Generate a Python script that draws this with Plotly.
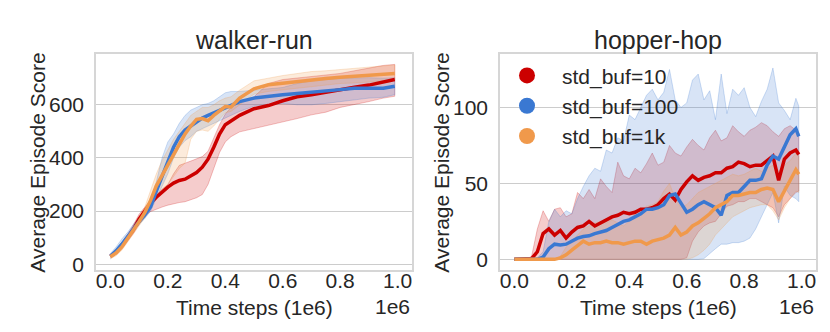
import numpy as np
import plotly.graph_objects as go

FONT = "Liberation Sans, Arial, Helvetica, sans-serif"
INK = "#262626"

SERIES = ["std_buf=10", "std_buf=100", "std_buf=1k"]
COLORS = ["#cc0000", "#3a78d2", "#f0994b"]
FILLS = ["rgba(204,0,0,0.2)", "rgba(58,120,210,0.2)", "rgba(240,153,75,0.2)"]
EDGES = ["rgba(204,0,0,0.3)", "rgba(58,120,210,0.3)", "rgba(240,153,75,0.3)"]

PANEL_TITLES = ["walker-run", "hopper-hop"]
X_TITLE = "Time steps (1e6)"
Y_TITLE = "Average Episode Score"
X_TICKS = [0.0, 0.2, 0.4, 0.6, 0.8, 1.0]
X_TICKTEXT = ["0.0", "0.2", "0.4", "0.6", "0.8", "1.0"]
WALKER_YTICKS = [0, 200, 400, 600]
HOPPER_YTICKS = [0, 50, 100]

# ---- walker-run (x in millions of time steps) ----
WALKER_X = [0, .02, .04, .06, .08, .10, .12, .14, .16, .18, .20, .22, .24, .26, .28, .30, .32,
            .34, .36, .38, .40, .42, .45, .50, .55, .60, .65, .70, .75, .80, .85, .90, .95, .99]
W_MEAN_10 = [30, 45, 70, 100, 130, 170, 200, 230, 252, 272, 290, 305, 315, 320, 332, 345, 365,
             395, 440, 490, 525, 540, 560, 585, 597, 615, 630, 638, 648, 658, 666, 674, 686, 695]
W_LO_10 = [25, 38, 58, 85, 115, 150, 180, 198, 208, 215, 222, 228, 232, 235, 242, 250, 262,
           300, 360, 420, 460, 480, 498, 510, 522, 535, 548, 562, 572, 590, 600, 612, 625, 632]
W_HI_10 = [35, 55, 82, 112, 148, 188, 215, 240, 262, 282, 300, 340, 372, 380, 388, 395, 405,
           425, 475, 525, 565, 590, 610, 630, 680, 695, 700, 706, 712, 718, 728, 738, 748, 752]
W_MEAN_100 = [30, 50, 75, 105, 135, 160, 185, 215, 275, 330, 390, 440, 480, 505, 520, 535, 550,
              560, 570, 580, 590, 600, 612, 625, 632, 638, 642, 648, 652, 657, 662, 663, 662, 670]
W_LO_100 = [20, 40, 65, 95, 125, 150, 172, 200, 245, 290, 340, 400, 440, 465, 480, 500, 510,
            520, 530, 540, 550, 560, 575, 595, 600, 605, 600, 600, 605, 612, 618, 625, 628, 638]
W_HI_100 = [40, 65, 95, 120, 150, 175, 198, 235, 310, 400, 460, 490, 530, 560, 580, 590, 600,
            605, 615, 630, 645, 650, 650, 655, 660, 665, 680, 690, 695, 700, 700, 702, 700, 702]
W_MEAN_1K = [28, 42, 65, 95, 125, 160, 195, 240, 295, 335, 375, 415, 455, 490, 520, 545, 548,
             540, 560, 575, 593, 592, 625, 660, 675, 681, 688, 694, 699, 704, 707, 710, 714, 718]
W_LO_1K = [20, 32, 52, 82, 112, 145, 175, 215, 255, 280, 300, 330, 360, 380, 470, 500, 505,
           500, 520, 545, 570, 575, 600, 640, 650, 655, 662, 668, 675, 680, 682, 685, 688, 692]
W_HI_1K = [38, 52, 78, 108, 140, 175, 215, 275, 340, 390, 430, 470, 500, 530, 560, 575, 590,
           590, 600, 615, 625, 630, 655, 690, 700, 710, 718, 725, 728, 732, 738, 742, 746, 750]

# ---- hopper-hop ----
HOPPER_X = [0, .02, .04, .06, .08, .10, .12, .14, .16, .18, .20, .22, .24, .26, .28, .30, .32,
            .34, .36, .38, .40, .42, .44, .46, .48, .50, .52, .54, .56, .58, .60, .62, .64, .66,
            .68, .70, .72, .74, .76, .78, .80, .82, .84, .86, .88, .90, .92, .94, .96, .98, .99]
H_MEAN_10 = [0, 0, 0, 0.5, 5, 17, 20, 16, 19, 14, 18, 21, 22, 25, 22, 24, 26,
             28, 29, 31, 30, 31, 33, 33, 34, 36, 40, 43, 39, 46, 51, 55, 52, 54,
             55, 57, 57, 60, 61, 64, 63, 61, 62, 62, 65, 68, 52, 66, 70, 72, 69]
H_LO_10 = [0, 0, 0, 0, 0, 0, 0, 0, 0, 0, 0, 0, 0, 0, 0, 0, 0,
           0, 0, 0, 0, 0, 0, 0, 0, 0, 0, 0, 0, 0, 1, 12, 18, 22,
           24, 25, 30, 35, 36, 38, 38, 40, 40, 38, 36, 34, 28, 36, 40, 44, 45]
H_HI_10 = [0, 0, 0, 2, 20, 32, 25, 33, 34, 28, 30, 44, 40, 46, 40, 53, 48,
           44, 64, 55, 53, 60, 57, 63, 70, 62, 64, 75, 70, 68, 74, 79, 75, 72,
           80, 85, 78, 80, 88, 84, 81, 85, 87, 90, 88, 84, 81, 86, 88, 85, 83]
H_MEAN_100 = [0, 0, 0, 0, 0, 1.5, 7, 10, 9.5, 10, 12, 14, 15, 15.5, 17, 18, 19,
              21, 23, 25, 26, 28, 30, 33, 33, 34, 36, 42, 43, 37, 31, 33, 36, 38,
              36, 34, 29, 42, 44, 44, 48, 52, 52, 53, 62, 68, 66, 74, 82, 86, 81]
H_LO_100 = [0, 0, 0, 0, 0, 0, 0, 0, 0, 0, 0, 0, 0, 0, 0, 0, 0,
            0, 0, 0, 0, 0, 0, 0, 0, 0, 0, 0, 0, 0, 0, 0, 0, 0.5,
            4, 7, 10, 10, 11, 11, 12, 14, 20, 28, 36, 44, 24, 48, 42, 40, 38]
H_HI_100 = [0, 0, 0, 0.5, 1, 5, 25, 33, 28, 32, 30, 40, 48, 55, 60, 58, 72,
            70, 80, 78, 95, 92, 100, 108, 112, 105, 110, 125, 105, 100, 103, 118, 122, 105,
            111, 92, 122, 96, 112, 108, 113, 100, 94, 104, 112, 126, 103, 98, 92, 106, 101]
H_MEAN_1K = [0, 0, 0, 0, 0, 0, 0, 0, 1, 3, 6, 9, 12, 10, 11, 11, 12,
             11, 11, 10, 11, 12, 12, 10, 12, 13, 14, 16, 21, 16, 18, 22, 24, 27,
             30, 34, 36, 38, 42, 42, 43, 44, 44, 46, 47, 46, 38, 45, 52, 59, 56]
H_LO_1K = [0, 0, 0, 0, 0, 0, 0, 0, 0, 0, 0, 0, 0, 0, 0, 0, 0,
           0, 0, 0, 0, 0, 0, 0, 0, 0, 0, 0, 0, 0, 0, 1, 3, 6,
           10, 16, 20, 24, 28, 30, 32, 34, 35, 36, 36, 32, 26, 34, 40, 45, 44]
H_HI_1K = [0, 0, 0, 0, 0, 0, 0, 0, 2, 8, 12, 16, 20, 22, 24, 25, 24,
           26, 24, 22, 25, 30, 32, 35, 36, 38, 45, 50, 40, 34, 36, 40, 44, 46,
           48, 50, 52, 54, 56, 55, 56, 58, 60, 58, 60, 62, 58, 62, 65, 70, 68]

PANELS = [
    (WALKER_X, [(W_MEAN_10, W_LO_10, W_HI_10), (W_MEAN_100, W_LO_100, W_HI_100),
                (W_MEAN_1K, W_LO_1K, W_HI_1K)], "x", "y"),
    (HOPPER_X, [(H_MEAN_10, H_LO_10, H_HI_10), (H_MEAN_100, H_LO_100, H_HI_100),
                (H_MEAN_1K, H_LO_1K, H_HI_1K)], "x2", "y2"),
]

W, H = 830, 332
fig = go.Figure()
for xs, stats, xa, ya in PANELS:
    x = np.array(xs) * 1e6
    for (mean, lo, hi), fill, edge in zip(stats, FILLS, EDGES):
        fig.add_trace(go.Scatter(
            x=np.concatenate([x, x[::-1]]), y=list(lo) + list(hi)[::-1],
            fill="toself", fillcolor=fill, line=dict(color=edge, width=0.8),
            mode="lines", hoverinfo="skip", showlegend=False, xaxis=xa, yaxis=ya))
    for (mean, lo, hi), c, name in zip(stats, COLORS, SERIES):
        fig.add_trace(go.Scatter(
            x=x, y=mean, mode="lines", line=dict(color=c, width=3.5), name=name,
            showlegend=False, xaxis=xa, yaxis=ya))

# legend entries (dots only, like the original)
for i, (c, name) in enumerate(zip(COLORS, SERIES)):
    fig.add_trace(go.Scatter(x=[None], y=[None], mode="markers", name=name,
                             marker=dict(size=16, color=c), legendgroup=f"g{i}",
                             xaxis="x2", yaxis="y2"))

xdom = [[88 / W, 404 / W], [492 / W, 808 / W]]
ydom = [1 - 266 / H, 1 - 47 / H]

axis_common = dict(showline=True, mirror=True, linecolor="#d6d6d6", linewidth=1.5,
                   ticks="", zeroline=False, tickfont=dict(size=21, color=INK, family=FONT))
xaxis = dict(axis_common, range=[-0.05e6, 1.05e6], tickvals=[v * 1e6 for v in X_TICKS],
             ticktext=X_TICKTEXT, showgrid=False, ticklabelstandoff=-9)
yaxis = dict(axis_common, showgrid=True, gridcolor="#cccccc", gridwidth=1, ticklabelstandoff=6)

fig.update_layout(
    width=W, height=H, margin=dict(l=0, r=0, t=0, b=0),
    paper_bgcolor="white", plot_bgcolor="white",
    font=dict(family=FONT, size=21, color=INK),
    xaxis=dict(xaxis, domain=xdom[0], anchor="y"),
    yaxis=dict(yaxis, domain=ydom, anchor="x", range=[-22, 790], tickvals=WALKER_YTICKS),
    xaxis2=dict(xaxis, domain=xdom[1], anchor="y2"),
    yaxis2=dict(yaxis, domain=ydom, anchor="x2", range=[-7, 135], tickvals=HOPPER_YTICKS),
    legend=dict(x=484 / W, y=1 - 48 / H, xanchor="left", yanchor="top",
                bgcolor="rgba(0,0,0,0)", itemsizing="trace", itemwidth=60,
                tracegroupgap=0, font=dict(size=21, color=INK)),
    showlegend=True,
)

ann = []
for i in range(2):
    cx = (xdom[i][0] + xdom[i][1]) / 2
    ann.append(dict(text=PANEL_TITLES[i], x=cx, y=1 - 32 / H, xref="paper", yref="paper",
                    showarrow=False, xanchor="center", yanchor="middle", font=dict(size=25)))
    ann.append(dict(text=X_TITLE, x=cx, y=1 - 304 / H, xref="paper", yref="paper",
                    showarrow=False, xanchor="center", yanchor="middle", font=dict(size=21)))
    ann.append(dict(text="1e6", x=xdom[i][1], y=1 - 303 / H, xref="paper", yref="paper",
                    showarrow=False, xanchor="right", yanchor="middle", font=dict(size=21)))
ann.append(dict(text=Y_TITLE, x=30 / W, y=1 - 157 / H, xref="paper", yref="paper",
                showarrow=False, textangle=-90, xanchor="center", yanchor="middle",
                font=dict(size=21)))
ann.append(dict(text=Y_TITLE, x=434 / W, y=1 - 157 / H, xref="paper", yref="paper",
                showarrow=False, textangle=-90, xanchor="center", yanchor="middle",
                font=dict(size=21)))
fig.update_layout(annotations=ann)

fig.write_html("out.html")
